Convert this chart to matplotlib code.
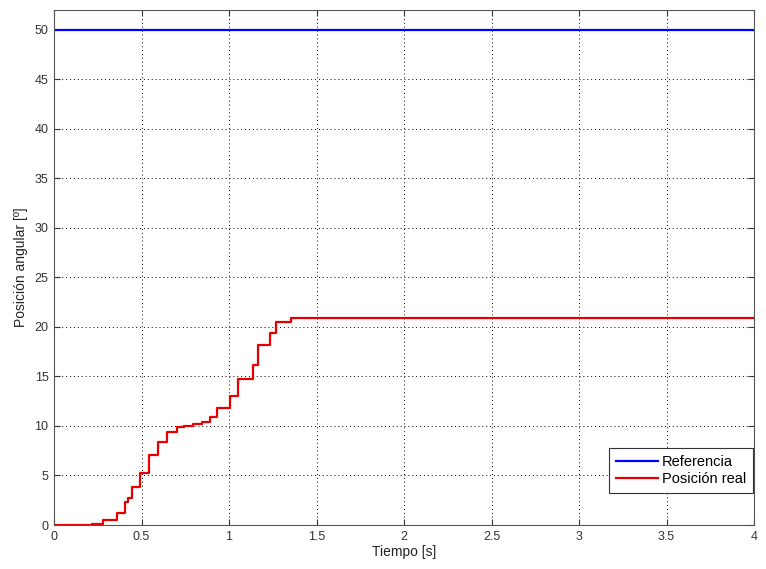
import matplotlib
matplotlib.use("Agg")
import matplotlib.pyplot as plt

# datos
t_ref = [0, 4]
y_ref = [50, 50]

t_real = [0, 0.215, 0.28, 0.36, 0.405, 0.425, 0.444, 0.49, 0.545, 0.596, 0.644,
          0.70, 0.74, 0.795, 0.844, 0.89, 0.93, 1.006, 1.053, 1.139, 1.167,
          1.234, 1.27, 1.353, 4.0]
y_real = [0, 0.1, 0.5, 1.25, 2.35, 2.7, 3.8, 5.3, 7.1, 8.4, 9.4,
          9.87, 10.04, 10.2, 10.4, 10.94, 11.8, 13.0, 14.75, 16.2, 18.2,
          19.4, 20.45, 20.9, 20.9]

xticks = [0, 0.5, 1, 1.5, 2, 2.5, 3, 3.5, 4]
xticklabels = ['0', '0.5', '1', '1.5', '2', '2.5', '3', '3.5', '4']
yticks = list(range(0, 51, 5))

plt.rcParams['font.family'] = ['Liberation Sans', 'DejaVu Sans']
plt.rcParams['font.size'] = 9

fig = plt.figure(figsize=(7.66, 5.69), dpi=100)
ax = fig.add_axes([54 / 766, 44 / 569, 700 / 766, 515 / 569])

ax.plot(t_ref, y_ref, color='#0000ff', lw=1.6, label='Referencia')
ax.plot(t_real, y_real, color='#e80000', lw=1.6, drawstyle='steps-post',
        label='Posición real')

ax.set_xlim(0, 4)
ax.set_ylim(0, 52)
ax.set_xticks(xticks)
ax.set_xticklabels(xticklabels)
ax.set_yticks(yticks)

ax.grid(True, color='black', linestyle=(0, (1, 3)), linewidth=0.7)
ax.tick_params(direction='in', top=True, right=True, length=4,
               colors='#333333', labelsize=9, pad=4)
for s in ax.spines.values():
    s.set_color('#555555')

ax.set_xlabel('Tiempo [s]', fontsize=10, labelpad=2, color='#222222')
ax.set_ylabel('Posición angular [º]', fontsize=10, labelpad=5, color='#222222')

leg = ax.legend(loc='lower right', bbox_to_anchor=(0.999, 0.062), borderaxespad=0,
                fancybox=False, framealpha=1, edgecolor='#333333', fontsize=10.5,
                handlelength=2.9, handletextpad=0.25, borderpad=0.5,
                labelspacing=0.2)
leg.get_frame().set_linewidth(0.8)

fig.savefig('out.png', dpi=100)
